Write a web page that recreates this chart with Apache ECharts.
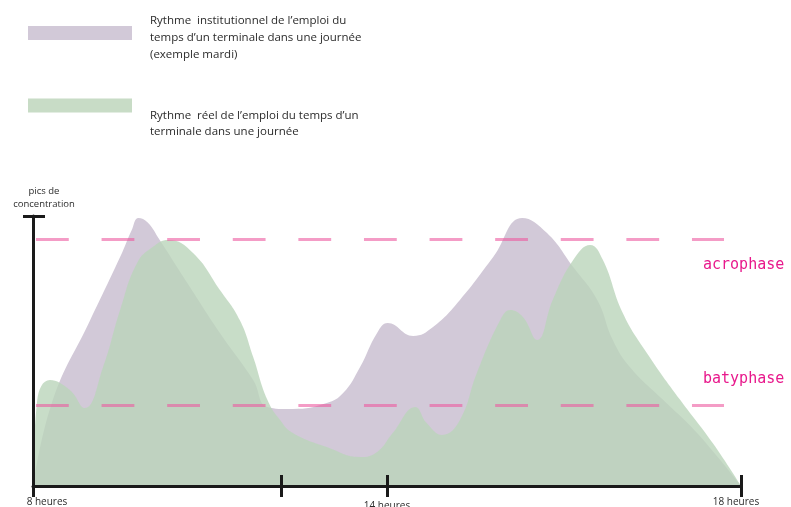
<!DOCTYPE html>
<html>
<head>
<meta charset="utf-8">
<script src="https://cdn.jsdelivr.net/npm/echarts@6/dist/echarts.min.js"></script>
<style>
html,body{margin:0;padding:0;background:#fff;}
#chart{width:791px;height:507px;}
</style>
</head>
<body>
<div id="chart"></div>
<script>
// x: position along the school day (0 = 8 heures, 50 = 14 heures, 100 = 18 heures)
// y: concentration level (0-100)
const institutionalName = "Rythme  institutionnel de l\u2019emploi du\ntemps d\u2019un terminale dans une journée\n(exemple mardi)";
const realName = "Rythme  réel de l\u2019emploi du temps d\u2019un\nterminale dans une journée";

const institutionalRhythm = [
  [0, 0], [2.8, 31.9], [8.0, 61.0], [12.6, 86.5], [13.9, 94.5], [14.9, 99.3],
  [16.2, 97.6], [17.9, 91.1],
  [21.8, 75.2], [26.4, 56.7], [31.1, 39.3],
  [33.1, 29.3], [36.7, 28.5], [41.5, 30.7], [43.8, 34.4], [46.2, 44.1],
  [48.6, 56.7], [50.1, 60.4], [53.7, 55.6], [56.5, 58.9], [60.3, 68.9],
  [65.0, 84.8], [69.1, 99.3], [72.6, 93.7], [76.3, 81.1], [79.7, 68.9],
  [81.9, 54.1], [84.3, 44.1], [89.0, 31.9], [93.8, 19.6], [100, 0]
];

const realRhythm = [
  [0, 0], [0.6, 31.9], [2.4, 39.3], [5.2, 35.6], [7.3, 28.9], [9.9, 44.1],
  [12.3, 65.2], [14.7, 82.6], [16.9, 88.5], [19.1, 91.1], [22.6, 86.3],
  [26.4, 72.6], [29.2, 61.5], [31.1, 47.8], [33.1, 31.9], [34.9, 24.4],
  [36.7, 19.6], [41.5, 14.4], [46.2, 10.7], [48.6, 12.6], [50.8, 19.6],
  [54.0, 29.3], [55.6, 23.3], [57.8, 18.9], [60.3, 24.4], [62.7, 41.9],
  [66.0, 61.5], [67.4, 65.2], [69.2, 62.6], [71.2, 54.1], [73.4, 68.9],
  [76.3, 83.7], [78.7, 89.3], [80.5, 83.7], [83.3, 64.1], [86.7, 49.3],
  [91.4, 31.9], [96.0, 15.9], [100, 0]
];

const xTickValues = [0, 35.0, 50, 100];
const xTickLabels = ["8 heures", "", "14 heures", "18 heures"];
const yTickValues = [100];

const acrophaseLevel = 91.5;
const batyphaseLevel = 30;
const phaseLineStart = 0.42;
const phaseLineEnd = 97.6;
const phaseLabels = ["acrophase", "batyphase"];

const chart = echarts.init(document.getElementById('chart'), null, {renderer: 'canvas'});

const axisBlack = {color: '#1a1a1a', width: 3};
const textFont = "'Open Sans', 'Noto Sans', sans-serif";
const labelStyle = {fontFamily: textFont, fontSize: 10, color: '#2b2b2b'};

const option = {
  animation: false,
  backgroundColor: '#ffffff',
  legend: [
    {
      data: [{name: institutionalName}],
      left: 28, top: 2.5, padding: 0,
      icon: 'rect', itemWidth: 104, itemHeight: 14,
      selectedMode: false,
      formatter: function (n) { return '{sp| }\n' + n; },
      textStyle: {
        fontFamily: textFont, fontSize: 11.5, lineHeight: 17, color: '#2b2b2b', padding: [0, 0, 0, 13],
        rich: {sp: {fontSize: 2, lineHeight: 10}}
      }
    },
    {
      data: [{name: realName}],
      left: 28, top: 71, padding: 0,
      icon: 'rect', itemWidth: 104, itemHeight: 14,
      selectedMode: false,
      formatter: function (n) { return '{sp| }\n' + n; },
      textStyle: {
        fontFamily: textFont, fontSize: 11.5, lineHeight: 16, color: '#2b2b2b', padding: [0, 0, 0, 13],
        rich: {sp: {fontSize: 2, lineHeight: 37}}
      }
    }
  ],
  grid: {left: 33, right: 50, top: 216, bottom: 21, containLabel: false, outerBoundsMode: 'none'},
  xAxis: [
    {
      type: 'value', min: 0, max: 100, z: 10,
      axisLine: {show: true, lineStyle: axisBlack},
      splitLine: {show: false},
      axisTick: {show: true, inside: false, length: 11, lineStyle: axisBlack, customValues: xTickValues},
      axisLabel: Object.assign({
        show: true, margin: 11, customValues: xTickValues,
        formatter: function (v) {
          const i = xTickValues.indexOf(v);
          const t = i >= 0 ? xTickLabels[i] : '';
          if (i === 0) return '{first|' + t + '}';
          if (i === 2) return '{low|' + t + '}';
          if (i === 3) return '{last|' + t + '}';
          return t;
        },
        rich: {
          first: Object.assign({padding: [0, 0, 0, 28]}, labelStyle),
          low: Object.assign({padding: [4, 0, 0, 0]}, labelStyle),
          last: Object.assign({padding: [0, 10, 0, 0]}, labelStyle)
        }
      }, labelStyle)
    },
    {
      type: 'value', min: 0, max: 100, z: 10, position: 'bottom',
      axisLine: {show: false},
      splitLine: {show: false},
      axisTick: {show: true, inside: true, length: 11, lineStyle: axisBlack, customValues: xTickValues.slice(1)},
      axisLabel: {show: false}
    }
  ],
  yAxis: [
    {
      type: 'value', min: 0, max: 100, z: 10,
      name: 'pics de\nconcentration', nameLocation: 'end', nameGap: 5,
      nameTextStyle: {fontFamily: textFont, fontSize: 9.5, lineHeight: 13, color: '#2b2b2b', align: 'center', padding: [0, 0, 0, 22]},
      axisLine: {show: true, lineStyle: axisBlack},
      splitLine: {show: false},
      axisTick: {show: true, inside: false, length: 10, lineStyle: axisBlack, customValues: yTickValues},
      axisLabel: {show: false}
    },
    {
      type: 'value', min: 0, max: 100, z: 10, position: 'left',
      axisLine: {show: false},
      splitLine: {show: false},
      axisTick: {show: true, inside: true, length: 12, lineStyle: axisBlack, customValues: yTickValues},
      axisLabel: {show: false}
    }
  ],
  series: [
    {
      name: institutionalName,
      type: 'line',
      color: '#d2c9d8',
      data: institutionalRhythm,
      smooth: 0.45,
      symbol: 'none',
      lineStyle: {width: 0},
      areaStyle: {color: '#d2c9d8', opacity: 1},
      z: 2
    },
    {
      name: realName,
      type: 'line',
      color: '#c8dcc6',
      data: realRhythm,
      smooth: 0.45,
      symbol: 'none',
      lineStyle: {width: 0},
      areaStyle: {color: '#bad4ba', opacity: 0.8},
      z: 3,
      markLine: {
        silent: true,
        symbol: 'none',
        label: {show: false},
        lineStyle: {color: 'rgba(236,90,160,0.6)', width: 3, type: [32.8, 32.8]},
        data: [
          [{coord: [phaseLineStart, acrophaseLevel]}, {coord: [phaseLineEnd, acrophaseLevel]}],
          [{coord: [phaseLineStart, batyphaseLevel]}, {coord: [phaseLineEnd, batyphaseLevel]}]
        ]
      }
    }
  ],
  graphic: [
    {type: 'text', left: 703, top: 258, style: {text: phaseLabels[0], fontFamily: "'DejaVu Sans Mono', monospace", fontSize: 15, fill: '#e8198c'}},
    {type: 'text', left: 703, top: 372, style: {text: phaseLabels[1], fontFamily: "'DejaVu Sans Mono', monospace", fontSize: 15, fill: '#e8198c'}}
  ]
};

chart.setOption(option);
</script>
</body>
</html>
